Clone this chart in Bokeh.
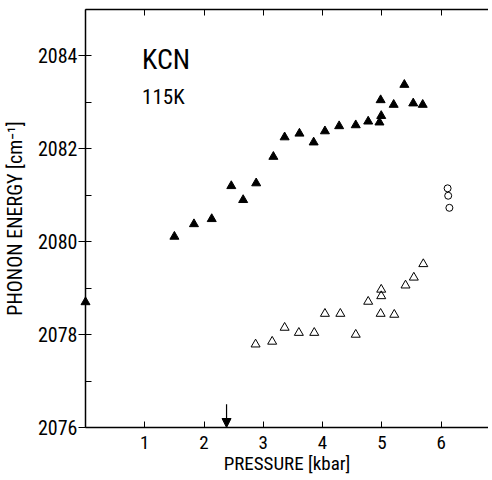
from bokeh.plotting import figure
from bokeh.models import (Range1d, LinearAxis, FixedTicker,
                          SingleIntervalTicker, Label, Arrow, NormalHead)
from bokeh.embed import file_html
from bokeh.resources import INLINE

FONT = "'Roboto Condensed', 'DejaVu Sans Condensed', 'Liberation Sans', sans-serif"

# ---- data ----
filled_p = [1.50, 1.83, 2.13, 2.46, 2.66, 2.88, 3.17, 3.36, 3.61, 3.85, 4.04,
            4.28, 4.56, 4.77, 4.96, 4.99, 4.98, 5.20, 5.38, 5.53, 5.69]
filled_e = [2080.11, 2080.38, 2080.49, 2081.20, 2080.90, 2081.26, 2081.83,
            2082.25, 2082.33, 2082.14, 2082.38, 2082.49, 2082.51, 2082.59,
            2082.57, 2082.71, 2083.05, 2082.95, 2083.38, 2082.98, 2082.95]

zero_p = [0.0]
zero_e = [2078.70]

open_p = [2.87, 3.15, 3.36, 3.60, 3.86, 4.04, 4.30, 4.56, 4.77, 4.99, 4.99,
          4.98, 5.21, 5.40, 5.54, 5.70]
open_e = [2077.79, 2077.85, 2078.15, 2078.04, 2078.04, 2078.45, 2078.45,
          2078.00, 2078.71, 2078.97, 2078.83, 2078.45, 2078.43, 2079.06,
          2079.23, 2079.52]

circle_p = [6.11, 6.12, 6.14]
circle_e = [2081.15, 2080.99, 2080.73]

x_ticks = [1, 2, 3, 4, 5, 6]
transition_p = 2.38

p = figure(width=488, height=480, output_backend="svg", toolbar_location=None,
           x_range=Range1d(0, 6.8), y_range=Range1d(2076, 2085),
           x_axis_type=None, y_axis_type=None,
           min_border_left=84, min_border_right=0, min_border_top=9,
           min_border_bottom=53)
p.outline_line_color = None
p.grid.visible = False
p.background_fill_color = "white"

# bottom axis
xa = LinearAxis(ticker=FixedTicker(ticks=x_ticks, minor_ticks=[]),
                axis_label="PRESSURE [kbar]")
xa.axis_line_width = 1.5
xa.axis_line_color = "black"
xa.major_tick_in = 6
xa.major_tick_out = 0
xa.minor_tick_in = 0
xa.minor_tick_out = 0
xa.major_label_standoff = 8
xa.major_label_text_font = FONT
xa.major_label_text_font_size = "19px"
xa.major_label_text_color = "black"
xa.axis_label_text_font = FONT
xa.axis_label_text_font_size = "19px"
xa.axis_label_text_font_style = "normal"
xa.axis_label_text_color = "black"
xa.axis_label_standoff = 0
p.add_layout(xa, "below")

# top axis (ticks only)
ta = LinearAxis(ticker=FixedTicker(ticks=x_ticks, minor_ticks=[]))
ta.axis_line_width = 1.5
ta.axis_line_color = "black"
ta.major_tick_in = 6
ta.major_tick_out = 0
ta.minor_tick_in = 0
ta.minor_tick_out = 0
ta.major_label_text_font_size = "0px"
ta.major_label_standoff = 0
ta.major_label_text_color = None
p.add_layout(ta, "above")

# left axis
ya = LinearAxis(ticker=SingleIntervalTicker(interval=2, num_minor_ticks=2),
                axis_label="PHONON ENERGY [cm\u207b\u00b9]")
ya.axis_line_width = 1.5
ya.axis_line_color = "black"
ya.major_tick_in = 0
ya.major_tick_out = 7
ya.minor_tick_in = 6
ya.minor_tick_out = 0
ya.major_tick_line_color = "black"
ya.minor_tick_line_color = "black"
ya.major_label_standoff = 1
ya.major_label_text_font = FONT
ya.major_label_text_font_size = "20px"
ya.major_label_text_color = "black"
ya.axis_label_text_font = FONT
ya.axis_label_text_font_size = "20px"
ya.axis_label_text_font_style = "normal"
ya.axis_label_text_color = "black"
ya.axis_label_standoff = 8
p.add_layout(ya, "left")

# data
p.scatter(filled_p, filled_e, marker="triangle", size=9,
          fill_color="black", line_color="black")
p.scatter(open_p, open_e, marker="triangle", size=9,
          fill_color=None, line_color="black", line_width=1)
p.scatter(circle_p, circle_e, marker="circle", size=7,
          fill_color=None, line_color="black", line_width=1)
# ambient-pressure point sitting on the axis (overlay level: not clipped)
p.scatter(zero_p, zero_e, marker="triangle", size=9,
          fill_color="black", line_color="black", level="overlay")

# transition arrow
p.add_layout(Arrow(x_start=transition_p, y_start=2076.5,
                   x_end=transition_p, y_end=2076.0,
                   line_color="black", line_width=1.2,
                   end=NormalHead(size=9, fill_color="black", line_color="black")))

p.add_layout(Label(x=0.955, y=2083.93, text="KCN", text_font=FONT,
                   text_font_size="28px", text_color="black",
                   text_baseline="alphabetic"))
p.add_layout(Label(x=0.955, y=2083.11, text="115K", text_font=FONT,
                   text_font_size="21px", text_color="black",
                   text_baseline="alphabetic"))

open("out.html", "w").write(file_html(p, INLINE))
